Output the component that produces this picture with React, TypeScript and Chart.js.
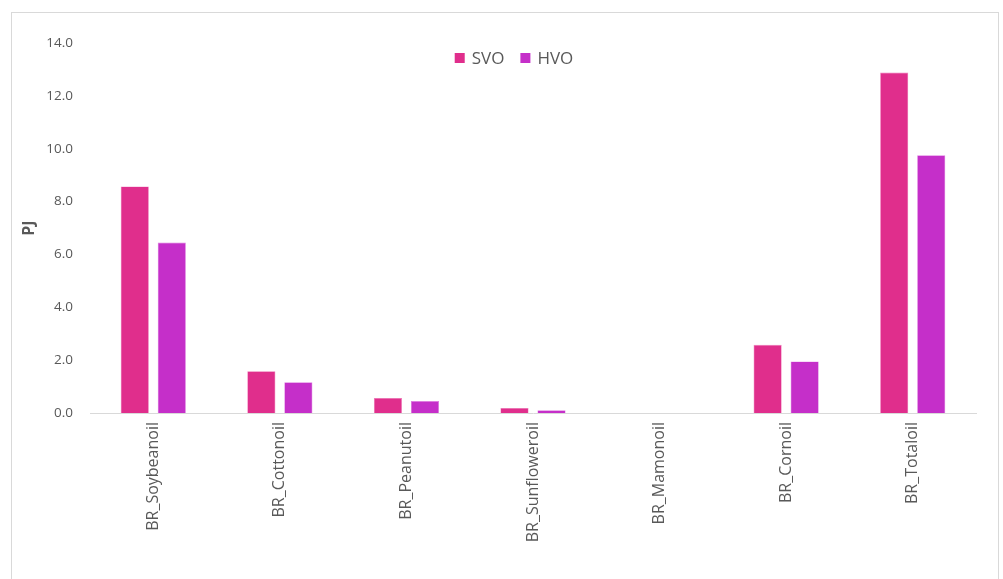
import React, { useEffect, useRef } from "react";
import { Chart, registerables } from "chart.js";

Chart.register(...registerables);

const categories = [
  "BR_Soybeanoil",
  "BR_Cottonoil",
  "BR_Peanutoil",
  "BR_Sunfloweroil",
  "BR_Mamonoil",
  "BR_Cornoil",
  "BR_Totaloil",
];
const svoValues = [8.57, 1.58, 0.57, 0.19, 0, 2.58, 12.88];
const hvoValues = [6.45, 1.16, 0.45, 0.1, 0, 1.95, 9.75];
const yTicks = [0, 2, 4, 6, 8, 10, 12, 14];

const SVO_COLOR = "#E02E8C";
const HVO_COLOR = "#C52FC9";
const TEXT = "#595959";
const FONT = "'Open Sans', 'Noto Sans', sans-serif";

export default function App() {
  const ref = useRef<HTMLCanvasElement | null>(null);

  useEffect(() => {
    if (!ref.current) return;
    // Legend drawn inside the plot area (overlaying), like the reference
    const overlayLegend = {
      id: "overlayLegend",
      afterDraw(chart: any) {
        const ctx = chart.ctx;
        const fontSize = 17;
        const box = 10;
        const gap = 7;
        const itemGap = 16;
        const cy = chart.chartArea.top + 15;
        ctx.save();
        ctx.font = `${fontSize}px ${FONT}`;
        const items = chart.data.datasets.map((d: any) => ({
          label: d.label,
          color: d.backgroundColor,
          w: box + gap + ctx.measureText(d.label).width,
        }));
        const total = items.reduce((s: number, it: any) => s + it.w, 0) + itemGap * (items.length - 1);
        let x = (chart.chartArea.left + chart.chartArea.right) / 2 - 19 - total / 2;
        for (const it of items) {
          ctx.fillStyle = it.color;
          ctx.fillRect(x, cy - box / 2, box, box);
          ctx.fillStyle = TEXT;
          ctx.textBaseline = "middle";
          ctx.textAlign = "left";
          ctx.fillText(it.label, x + box + gap, cy + 1);
          x += it.w + itemGap;
        }
        ctx.restore();
      },
    };
    const chart = new Chart(ref.current, {
      type: "bar",
      data: {
        labels: categories,
        datasets: [
          {
            label: "SVO",
            data: svoValues,
            backgroundColor: SVO_COLOR,
            borderColor: "#F07ABA",
            borderWidth: 0.6,
            categoryPercentage: 0.585,
            barPercentage: 0.76,
          },
          {
            label: "HVO",
            data: hvoValues,
            backgroundColor: HVO_COLOR,
            borderColor: "#DE7AE0",
            borderWidth: 0.6,
            categoryPercentage: 0.585,
            barPercentage: 0.76,
          },
        ],
      },
      options: {
        responsive: false,
        animation: false,
        layout: { padding: { left: 16, right: 27, top: 43, bottom: 6 } },
        plugins: {
          tooltip: { enabled: false },
          legend: { display: false },
        },
        scales: {
          x: {
            grid: { display: false, drawTicks: false },
            border: { display: true, color: "#D9D9D9", width: 1 },
            ticks: {
              color: TEXT,
              font: { family: FONT, size: 16 },
              maxRotation: 90,
              minRotation: 90,
              padding: 9,
              autoSkip: false,
            },
            afterFit(scale: any) {
              scale.height = 160;
            },
          },
          y: {
            min: 0,
            max: 14,
            afterBuildTicks(scale: any) {
              scale.ticks = yTicks.map((v) => ({ value: v }));
            },
            grid: { display: false, drawTicks: false },
            border: { display: false },
            ticks: {
              color: TEXT,
              font: { family: FONT, size: 13.5 },
              padding: 17,
              callback: (v: any) => Number(v).toFixed(1),
            },
            title: {
              display: true,
              text: "PJ",
              color: TEXT,
              font: { family: FONT, size: 16, weight: "bold" },
              padding: { top: 4, bottom: 0 },
            },
            afterFit(scale: any) {
              scale.width = 74;
            },
          },
        },
      },
      plugins: [overlayLegend],
    } as any);
    return () => chart.destroy();
  }, []);

  return (
    <div style={{ position: "absolute", left: 0, top: 0, width: 1003, height: 579, background: "#fff", overflow: "hidden" }}>
      <div
        style={{
          position: "absolute",
          left: 11,
          top: 12,
          width: 988,
          height: 580,
          border: "1px solid #D9D9D9",
          boxSizing: "border-box",
        }}
      />
      <canvas ref={ref} width={1003} height={579} style={{ position: "absolute", left: 0, top: 0 }} />
    </div>
  );
}
